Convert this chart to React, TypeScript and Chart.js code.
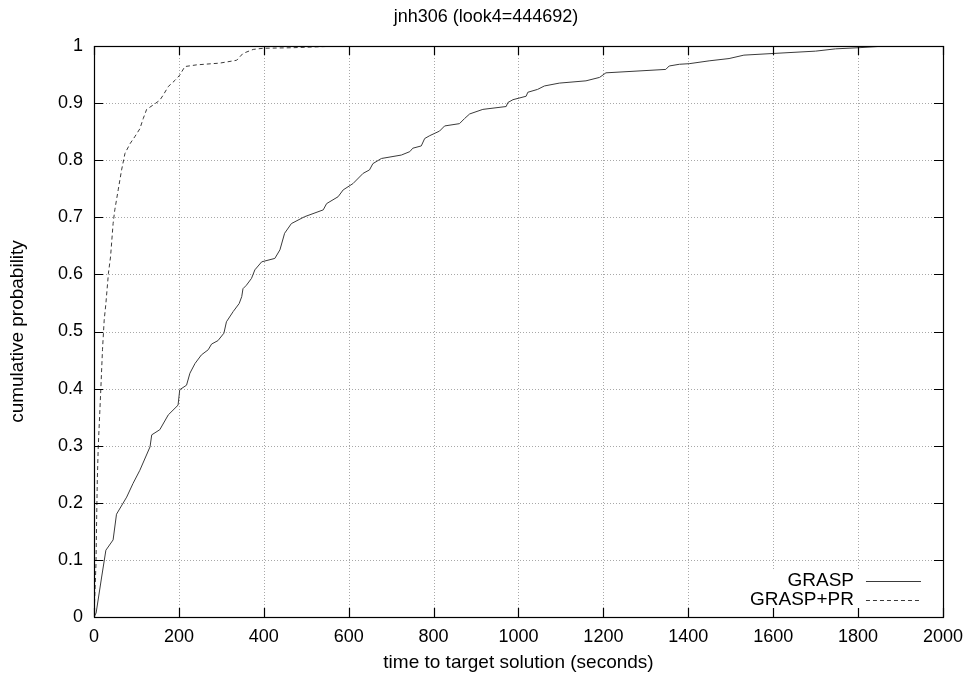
import React, { useEffect, useRef } from "react";
import { Chart, registerables } from "chart.js";

Chart.register(...registerables);

const chartTitle = "jnh306 (look4=444692)";
const xAxisTitle = "time to target solution (seconds)";
const yAxisTitle = "cumulative probability";
const seriesNames = ["GRASP", "GRASP+PR"];

const graspTime = [0, 5, 18, 28, 45, 53, 77, 92, 108, 132, 136, 155, 175, 198, 202, 218, 226, 238, 253, 269, 277, 292, 306, 312, 328, 342, 348, 351, 359, 371, 379, 395, 426, 438, 449, 465, 496, 540, 548, 575, 587, 610, 634, 649, 657, 677, 724, 744, 751, 771, 779, 791, 814, 826, 861, 873, 885, 916, 971, 975, 987, 1018, 1022, 1045, 1061, 1096, 1159, 1191, 1206, 1347, 1355, 1379, 1402, 1449, 1496, 1531, 1602, 1700, 1747, 1802, 1865];
const graspProb = [0, 0.007, 0.07, 0.117, 0.135, 0.18, 0.21, 0.234, 0.257, 0.298, 0.319, 0.328, 0.354, 0.371, 0.398, 0.406, 0.427, 0.444, 0.459, 0.468, 0.478, 0.484, 0.497, 0.517, 0.535, 0.549, 0.561, 0.575, 0.581, 0.593, 0.608, 0.622, 0.628, 0.643, 0.672, 0.689, 0.701, 0.713, 0.724, 0.736, 0.748, 0.759, 0.777, 0.783, 0.794, 0.803, 0.809, 0.815, 0.821, 0.825, 0.838, 0.843, 0.851, 0.86, 0.864, 0.873, 0.881, 0.889, 0.894, 0.901, 0.906, 0.912, 0.919, 0.924, 0.93, 0.935, 0.939, 0.945, 0.953, 0.959, 0.965, 0.968, 0.969, 0.974, 0.978, 0.984, 0.987, 0.991, 0.995, 0.997, 1.0];

const graspPrTime = [0, 2.4, 4.7, 6.4, 7.8, 10, 16, 20, 24, 28, 34, 39, 45, 49, 57, 65, 73, 85, 96, 108, 116, 124, 140, 155, 163, 175, 191, 202, 214, 242, 296, 336, 351, 375, 398, 469, 579];
const graspPrProb = [0, 0.047, 0.094, 0.18, 0.24, 0.298, 0.398, 0.468, 0.52, 0.549, 0.602, 0.631, 0.689, 0.713, 0.748, 0.783, 0.812, 0.829, 0.841, 0.855, 0.873, 0.889, 0.897, 0.905, 0.914, 0.929, 0.94, 0.949, 0.964, 0.967, 0.97, 0.975, 0.987, 0.994, 0.996, 0.997, 1.0];

const xTicks = [0, 200, 400, 600, 800, 1000, 1200, 1400, 1600, 1800, 2000];
const xTickLabels = ["0", "200", "400", "600", "800", "1000", "1200", "1400", "1600", "1800", "2000"];
const yTicks = [0, 0.1, 0.2, 0.3, 0.4, 0.5, 0.6, 0.7, 0.8, 0.9, 1];
const yTickLabels = ["0", "0.1", "0.2", "0.3", "0.4", "0.5", "0.6", "0.7", "0.8", "0.9", "1"];

const FONT = "'Liberation Sans', Arial, Helvetica, sans-serif";
const LINE_COLOR = "#3a3a3a";

export default function App() {
  const ref = useRef<HTMLCanvasElement>(null);

  useEffect(() => {
    if (!ref.current) return;

    const gnuplotFrame = {
      id: "gnuplotFrame",
      beforeDatasetsDraw(chart: any) {
        const { ctx, chartArea: a, scales } = chart;
        const xs = scales.x;
        const ys = scales.y;
        ctx.save();
        ctx.strokeStyle = "#a8a8a8";
        ctx.lineWidth = 1;
        ctx.setLineDash([1, 2]);
        xTicks.forEach((v) => {
          if (v <= xs.min || v >= xs.max) return;
          const px = Math.round(xs.getPixelForValue(v)) + 0.5;
          ctx.beginPath();
          ctx.moveTo(px, a.top);
          ctx.lineTo(px, a.bottom);
          ctx.stroke();
        });
        yTicks.forEach((v) => {
          if (v <= ys.min || v >= ys.max) return;
          const py = Math.round(ys.getPixelForValue(v)) + 0.5;
          ctx.beginPath();
          ctx.moveTo(a.left, py);
          ctx.lineTo(a.right, py);
          ctx.stroke();
        });
        ctx.setLineDash([]);
        // key background
        ctx.fillStyle = "#ffffff";
        ctx.fillRect(a.right - 196, a.bottom - 46, 186, 40);
        ctx.restore();
      },
      afterDatasetsDraw(chart: any) {
        const { ctx, chartArea: a, scales } = chart;
        const xs = scales.x;
        const ys = scales.y;
        ctx.save();
        ctx.strokeStyle = "#000000";
        ctx.lineWidth = 1.2;
        ctx.setLineDash([]);
        const tl = 9;
        xTicks.forEach((v) => {
          const px = Math.round(xs.getPixelForValue(v)) + 0.5;
          ctx.beginPath();
          ctx.moveTo(px, a.bottom);
          ctx.lineTo(px, a.bottom - tl);
          ctx.moveTo(px, a.top);
          ctx.lineTo(px, a.top + tl);
          ctx.stroke();
        });
        yTicks.forEach((v) => {
          const py = Math.round(ys.getPixelForValue(v)) + 0.5;
          ctx.beginPath();
          ctx.moveTo(a.left, py);
          ctx.lineTo(a.left + tl, py);
          ctx.moveTo(a.right, py);
          ctx.lineTo(a.right - tl, py);
          ctx.stroke();
        });
        ctx.strokeRect(Math.round(a.left) + 0.5, Math.round(a.top) + 0.5, Math.round(a.right - a.left), Math.round(a.bottom - a.top));

        // key
        ctx.font = "19px " + FONT;
        ctx.fillStyle = "#000000";
        ctx.textAlign = "right";
        ctx.textBaseline = "middle";
        chart.data.datasets.forEach((ds: any, i: number) => {
          const y = a.bottom - 36.3 + i * 19.3;
          ctx.fillText(ds.label, a.right - 89, y);
          ctx.strokeStyle = ds.borderColor;
          ctx.lineWidth = 1;
          ctx.setLineDash(ds.borderDash || []);
          ctx.beginPath();
          ctx.moveTo(a.right - 77, Math.round(y) + 0.5);
          ctx.lineTo(a.right - 22, Math.round(y) + 0.5);
          ctx.stroke();
        });
        ctx.restore();
      },
    };

    const chart = new Chart(ref.current, {
      type: "scatter",
      data: {
        datasets: [
          {
            label: seriesNames[0],
            data: graspTime.map((t, i) => ({ x: t, y: graspProb[i] })),
            showLine: true,
            borderColor: LINE_COLOR,
            borderWidth: 1,
            pointRadius: 0,
            tension: 0,
            fill: false,
          },
          {
            label: seriesNames[1],
            data: graspPrTime.map((t, i) => ({ x: t, y: graspPrProb[i] })),
            showLine: true,
            borderColor: LINE_COLOR,
            borderWidth: 1,
            borderDash: [4, 3],
            pointRadius: 0,
            tension: 0,
            fill: false,
          },
        ],
      },
      options: {
        responsive: false,
        animation: false,
        layout: { padding: 0 },
        plugins: {
          legend: { display: false },
          tooltip: { enabled: false },
          title: {
            display: true,
            text: chartTitle,
            color: "#000000",
            font: { family: FONT, size: 18, weight: "normal", lineHeight: 1.2 },
            padding: { top: 6.2, bottom: 18.2 },
          },
        },
        scales: {
          x: {
            type: "linear",
            min: 0,
            max: 2000,
            afterBuildTicks: (s: any) => {
              s.ticks = xTicks.map((v) => ({ value: v }));
            },
            afterFit: (s: any) => {
              s.height = 60;
            },
            ticks: {
              callback: (_v: any, i: number) => xTickLabels[i],
              color: "#000000",
              font: { family: FONT, size: 18, lineHeight: 1.2 },
              padding: 9,
              maxRotation: 0,
              autoSkip: false,
            },
            grid: { display: false, drawTicks: false },
            border: { display: false },
            title: {
              display: true,
              text: xAxisTitle,
              color: "#000000",
              font: { family: FONT, size: 19, lineHeight: 1.2 },
              padding: { top: 0, bottom: 2.6 },
            },
          },
          y: {
            type: "linear",
            min: 0,
            max: 1,
            afterBuildTicks: (s: any) => {
              s.ticks = yTicks.map((v) => ({ value: v }));
            },
            afterFit: (s: any) => {
              s.width = 94;
            },
            ticks: {
              callback: (_v: any, i: number) => yTickLabels[i],
              color: "#000000",
              font: { family: FONT, size: 18, lineHeight: 1.2 },
              padding: 11,
              autoSkip: false,
            },
            grid: { display: false, drawTicks: false },
            border: { display: false },
            title: {
              display: true,
              text: yAxisTitle,
              color: "#000000",
              font: { family: FONT, size: 19, lineHeight: 1.2 },
              padding: { top: 6.6, bottom: 0 },
            },
          },
          yRight: {
            type: "linear",
            position: "right",
            min: 0,
            max: 1,
            afterFit: (s: any) => {
              s.width = 28;
            },
            ticks: { display: false },
            grid: { display: false, drawTicks: false },
            border: { display: false },
          },
        },
      },
      plugins: [gnuplotFrame],
    } as any);

    return () => chart.destroy();
  }, []);

  return (
    <div style={{ position: "fixed", left: 0, top: 0, width: 972, height: 677, background: "#fff" }}>
      <canvas ref={ref} width={972} height={677} style={{ width: 972, height: 677, display: "block" }} />
    </div>
  );
}
